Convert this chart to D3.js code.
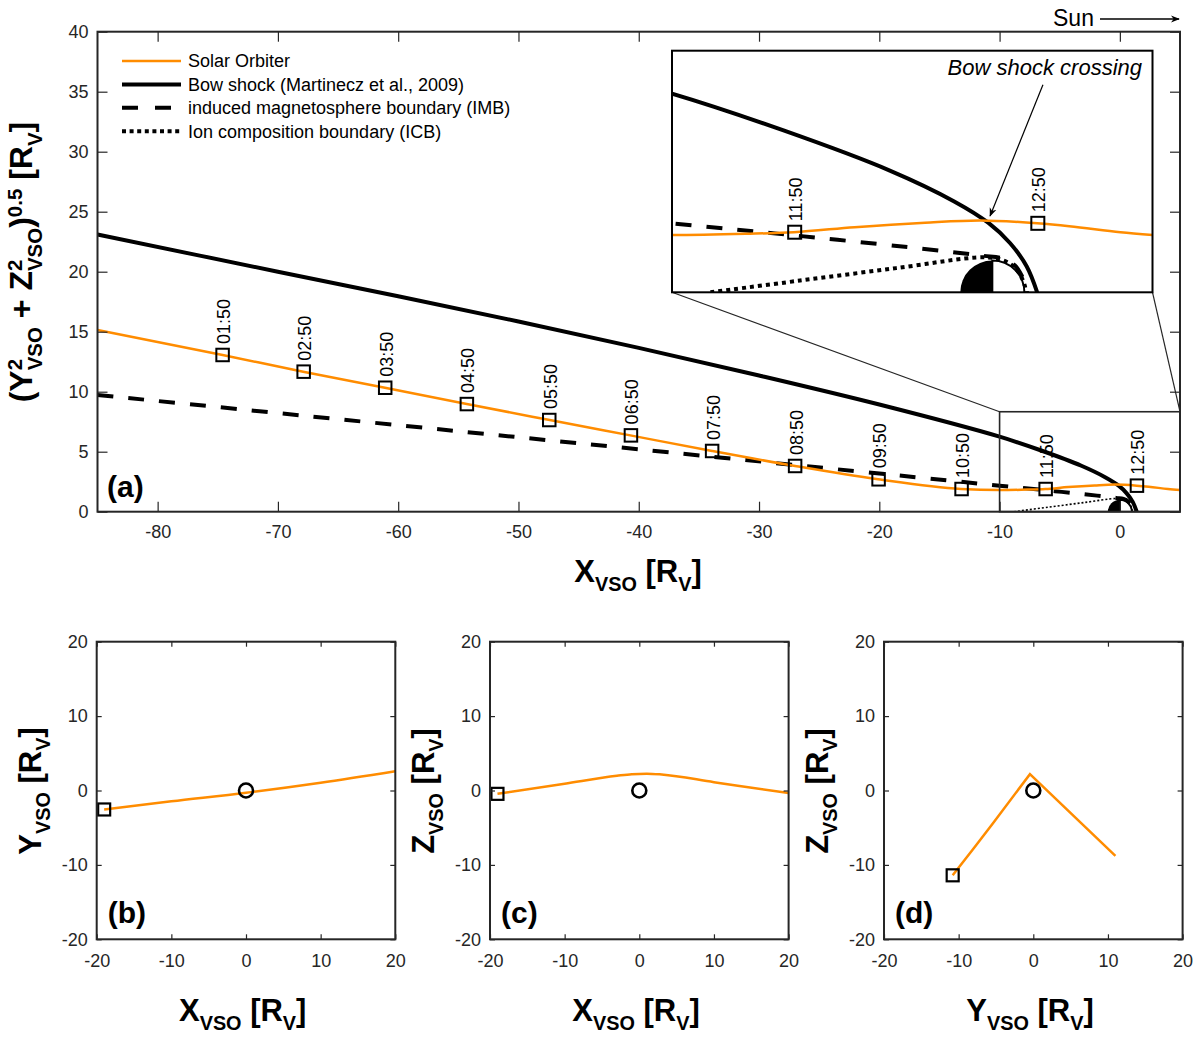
<!DOCTYPE html>
<html>
<head>
<meta charset="utf-8">
<script src="https://cdn.jsdelivr.net/npm/d3@7"></script>
<style>
body { margin: 0; background: #fff; }
text { font-family: "Liberation Sans", Arial, Helvetica, sans-serif; }
</style>
</head>
<body>
<svg id="fig" width="1200" height="1044"></svg>
<script>
// ---- data ----
// Solar Orbiter track in (X, sqrt(Y^2+Z^2)) [Rv]
var orbitX = [-85, -74.6, -67.9, -61.1, -54.3, -47.4, -40.7, -33.9, -27.0, -20.1, -13.2, -10, -7.7, -6.2, -4.3, -2.1, -0.4, 1.4, 2.4, 4.0, 5];
var orbitR = [15.14, 13.06, 11.67, 10.33, 8.97, 7.64, 6.36, 5.06, 3.81, 2.70, 1.89, 1.80, 1.84, 1.89, 2.05, 2.19, 2.26, 2.17, 2.08, 1.89, 1.80];

// hourly markers
var markerTime = ["01:50", "02:50", "03:50", "04:50", "05:50", "06:50", "07:50", "08:50", "09:50", "10:50", "11:50", "12:50"];
var markerX = [-74.6, -67.86, -61.08, -54.29, -47.44, -40.65, -33.9, -27.0, -20.06, -13.16, -6.17, 1.42];
var markerR = [13.06, 11.67, 10.33, 8.97, 7.64, 6.36, 5.06, 3.81, 2.70, 1.89, 1.89, 2.17];

// bow shock (Martinecz et al., 2009)
var bowX = [-85, -70, -60, -50, -40, -30, -20, -10, -6.54, -3.2, -1.19, -0.13, 0.55, 1.07, 1.40];
var bowR = [23.1, 20.0, 17.95, 15.85, 13.65, 11.35, 8.93, 6.25, 5.1, 3.83, 2.86, 2.19, 1.55, 0.82, 0];

// induced magnetosphere boundary
var imbX = [-85, -60, -40, -20, -10, -5.4, -1.9, -0.3, 0.3, 0.7, 0.93, 1.05, 1.08];
var imbR = [9.73, 7.21, 5.2, 3.18, 2.17, 1.71, 1.34, 1.15, 1.07, 0.85, 0.5, 0.2, 0];

// ion composition boundary
var icbX = [-8.8, -6, -3, -0.3, 0.3, 0.7, 0.92, 1.02, 1.04];
var icbR = [0, 0.37, 0.76, 1.1, 1.02, 0.78, 0.45, 0.18, 0];

// projections for panels b, c, d
var xyX = [-19.0, -10, 0, 10, 20];
var xyY = [-2.55, -1.45, -0.3, 1.05, 2.6];
var xzX = [-19.0, -10, -3, -1, 1, 3, 10, 20];
var xzZ = [-0.45, 0.92, 1.98, 2.2, 2.26, 2.15, 1.12, -0.35];
var yzY = [-10.8, -8, -5.4, -0.45, 11.0];
var yzZ = [-11.4, -7.8, -4.4, 2.2, -8.8];

var mainXTicks = [-80, -70, -60, -50, -40, -30, -20, -10, 0];
var mainYTicks = [0, 5, 10, 15, 20, 25, 30, 35, 40];
var smallTicks = [-20, -10, 0, 10, 20];

var legendLabels = ["Solar Orbiter", "Bow shock (Martinecz et al., 2009)", "induced magnetosphere boundary (IMB)", "Ion composition boundary (ICB)"];

// ---- drawing ----
var orange = "#ff8c00";
var ink = "#262626";
var svg = d3.select("#fig");
var defs = svg.append("defs");

function zip(xs, ys) {
  return xs.map(function (d, i) { return [d, ys[i]]; });
}

function linePath(xs, ys, sx, sy, curve) {
  return d3.line()
    .x(function (d) { return sx(d[0]); })
    .y(function (d) { return sy(d[1]); })
    .curve(curve || d3.curveCatmullRom.alpha(0.5))(zip(xs, ys));
}

function clip(id, sx, sy) {
  defs.append("clipPath").attr("id", id).append("rect")
    .attr("x", sx.range()[0]).attr("y", sy.range()[1])
    .attr("width", sx.range()[1] - sx.range()[0])
    .attr("height", sy.range()[0] - sy.range()[1]);
}

var plain = function (d) { return String(d); };   // hyphen minus like the original

// box with ticks on all four sides, labels on bottom/left
function boxAxes(sx, sy, xt, yt, tlen, padX, padY) {
  var g = svg.append("g");
  var b = sy.range()[0], t = sy.range()[1], l = sx.range()[0], r = sx.range()[1];
  g.append("g").attr("transform", "translate(0," + b + ")")
    .call(d3.axisBottom(sx).tickValues(xt).tickFormat(plain).tickSizeInner(-tlen).tickSizeOuter(0).tickPadding(padX));
  g.append("g").attr("transform", "translate(" + l + ",0)")
    .call(d3.axisLeft(sy).tickValues(yt).tickFormat(plain).tickSizeInner(-tlen).tickSizeOuter(0).tickPadding(padY));
  var top = g.append("g").attr("transform", "translate(0," + t + ")")
    .call(d3.axisTop(sx).tickValues(xt).tickSizeInner(-tlen).tickSizeOuter(0));
  var right = g.append("g").attr("transform", "translate(" + r + ",0)")
    .call(d3.axisRight(sy).tickValues(yt).tickSizeInner(-tlen).tickSizeOuter(0));
  top.selectAll("text").remove();
  right.selectAll("text").remove();
  g.selectAll(".domain").remove();
  g.selectAll(".tick line").attr("stroke", ink).attr("stroke-width", 1.2);
  g.selectAll(".tick text").attr("fill", ink).style("font-size", "18px")
    .style("font-family", '"Liberation Sans", Arial, sans-serif');
  g.append("rect").attr("x", l).attr("y", t).attr("width", r - l).attr("height", b - t)
    .attr("fill", "none").attr("stroke", ink).attr("stroke-width", 2);
  return g;
}

// text made of parts with sub/superscripts; a sub right after a sup is stacked under it
function richText(x, y, parts, size, rot, anchor) {
  var t = svg.append("text")
    .attr("transform", "translate(" + x + "," + y + ")" + (rot ? " rotate(-90)" : ""))
    .attr("text-anchor", anchor || "middle")
    .style("font-size", size + "px").style("font-weight", "bold").attr("fill", "#000");
  var cur = 0, prev = null;
  parts.forEach(function (p) {
    var shift = p.sub ? size * 0.3 : (p.sup ? -size * 0.3 : 0);
    var ts = t.append("tspan").attr("dy", shift - cur)
      .style("font-size", (p.sub || p.sup ? size * 0.64 : size) + "px")
      .text(p.t);
    if (p.sub && prev && prev.sup) {
      ts.attr("dx", -prev.node.getComputedTextLength());
    }
    prev = { sup: p.sup, node: ts.node() };
    cur = shift;
  });
  return t;
}

function venus(g, sx, sy) {
  var rx = sx(1) - sx(0), ry = sy(0) - sy(1);
  var cx = sx(0), cy = sy(0);
  // night side (x<0) filled, day side open
  g.append("path")
    .attr("d", "M" + cx + "," + cy + " L" + (cx - rx) + "," + cy +
      " A" + rx + "," + ry + " 0 0 1 " + cx + "," + (cy - ry) + " Z")
    .attr("fill", "#000");
  g.append("path")
    .attr("d", "M" + cx + "," + cy + " L" + cx + "," + (cy - ry) +
      " A" + rx + "," + ry + " 0 0 1 " + (cx + rx) + "," + cy)
    .attr("fill", "#fff").attr("stroke", "#000").attr("stroke-width", 2);
}

// ---------- panel (a) ----------
var x = d3.scaleLinear().domain([-85, 5]).range([97.5, 1180]);
var y = d3.scaleLinear().domain([0, 40]).range([511.7, 31.7]);
clip("clipA", x, y);

var gA = svg.append("g").attr("clip-path", "url(#clipA)");
gA.append("path").attr("d", linePath(icbX, icbR, x, y)).attr("fill", "none")
  .attr("stroke", "#000").attr("stroke-width", 1.6).attr("stroke-dasharray", "2,2");
venus(gA, x, y);
gA.append("path").attr("d", linePath(imbX, imbR, x, y)).attr("fill", "none")
  .attr("stroke", "#000").attr("stroke-width", 4).attr("stroke-dasharray", "16,15");
gA.append("path").attr("d", linePath(bowX, bowR, x, y)).attr("fill", "none")
  .attr("stroke", "#000").attr("stroke-width", 4);
gA.append("path").attr("d", linePath(orbitX, orbitR, x, y, d3.curveMonotoneX)).attr("fill", "none")
  .attr("stroke", orange).attr("stroke-width", 2.5);

// only the markers that fall inside the given x scale's domain
function markers(g, sx, sy, sz) {
  var dom = sx.domain();
  var m = zip(markerX, markerR)
    .map(function (d, i) { return { x: d[0], r: d[1], t: markerTime[i] }; })
    .filter(function (d) { return d.x >= dom[0] && d.x <= dom[1]; });
  g.selectAll(null).data(m).enter().append("rect")
    .attr("x", function (d) { return sx(d.x) - sz / 2; })
    .attr("y", function (d) { return sy(d.r) - sz / 2; })
    .attr("width", sz).attr("height", sz)
    .attr("fill", "none").attr("stroke", "#000").attr("stroke-width", 2);
  g.selectAll(null).data(m).enter().append("text")
    .attr("transform", function (d) {
      return "translate(" + (sx(d.x) + 7.5) + "," + (sy(d.r) - 11) + ") rotate(-90)";
    })
    .style("font-size", "18px").attr("fill", "#000")
    .text(function (d) { return d.t; });
}
markers(gA, x, y, 12.5);

// zoom box and connectors
var zoomBox = { x0: -10, x1: 5, y1: 8.33 };
svg.append("rect").attr("x", x(zoomBox.x0)).attr("y", y(zoomBox.y1))
  .attr("width", x(zoomBox.x1) - x(zoomBox.x0)).attr("height", y(0) - y(zoomBox.y1))
  .attr("fill", "none").attr("stroke", ink).attr("stroke-width", 1.6);

// inset axes
var xi = d3.scaleLinear().domain([-10, 5]).range([672, 1152.5]);
var yi = d3.scaleLinear().domain([0, 7.6]).range([292.3, 50.7]);
clip("clipI", xi, yi);

svg.append("line").attr("x1", xi(-10)).attr("y1", yi(0)).attr("x2", x(zoomBox.x0)).attr("y2", y(zoomBox.y1))
  .attr("stroke", ink).attr("stroke-width", 1.2);
svg.append("line").attr("x1", xi(5)).attr("y1", yi(0)).attr("x2", x(zoomBox.x1)).attr("y2", y(zoomBox.y1))
  .attr("stroke", ink).attr("stroke-width", 1.2);

svg.append("rect").attr("x", xi(-10)).attr("y", yi(7.6))
  .attr("width", xi(5) - xi(-10)).attr("height", yi(0) - yi(7.6)).attr("fill", "#fff");
var gI = svg.append("g").attr("clip-path", "url(#clipI)");
venus(gI, xi, yi);
gI.append("path").attr("d", linePath(icbX, icbR, xi, yi)).attr("fill", "none")
  .attr("stroke", "#000").attr("stroke-width", 4).attr("stroke-dasharray", "4,4");
gI.append("path").attr("d", linePath(imbX, imbR, xi, yi)).attr("fill", "none")
  .attr("stroke", "#000").attr("stroke-width", 4).attr("stroke-dasharray", "16,15");
gI.append("path").attr("d", linePath(bowX, bowR, xi, yi)).attr("fill", "none")
  .attr("stroke", "#000").attr("stroke-width", 4);
gI.append("path").attr("d", linePath(orbitX, orbitR, xi, yi, d3.curveMonotoneX)).attr("fill", "none")
  .attr("stroke", orange).attr("stroke-width", 2.5);
markers(gI, xi, yi, 13);
svg.append("rect").attr("x", xi(-10)).attr("y", yi(7.6))
  .attr("width", xi(5) - xi(-10)).attr("height", yi(0) - yi(7.6))
  .attr("fill", "none").attr("stroke", "#000").attr("stroke-width", 2);

// annotation arrow
defs.append("marker").attr("id", "head").attr("viewBox", "0 0 10 10")
  .attr("refX", 9).attr("refY", 5).attr("markerWidth", 9).attr("markerHeight", 9)
  .attr("markerUnits", "userSpaceOnUse").attr("orient", "auto")
  .append("path").attr("d", "M0,1 L10,5 L0,9 L3,5 Z").attr("fill", "#000");
svg.append("line").attr("x1", xi(1.58)).attr("y1", yi(6.53)).attr("x2", xi(-0.07)).attr("y2", yi(2.4))
  .attr("stroke", "#000").attr("stroke-width", 1.2).attr("marker-end", "url(#head)");
svg.append("text").attr("x", 1142).attr("y", 75).attr("text-anchor", "end")
  .style("font-size", "22px").style("font-style", "italic").text("Bow shock crossing");

boxAxes(x, y, mainXTicks, mainYTicks, 10, 14, 9);

// legend
var legStyle = [
  { c: orange, w: 2.5, d: null },
  { c: "#000", w: 4, d: null },
  { c: "#000", w: 4, d: "16,17" },
  { c: "#000", w: 4, d: "4,3.6" }
];
var leg = svg.append("g");
legendLabels.forEach(function (lab, i) {
  var ly = 61 + i * 23.4;
  leg.append("line").attr("x1", 122).attr("x2", 181).attr("y1", ly).attr("y2", ly)
    .attr("stroke", legStyle[i].c).attr("stroke-width", legStyle[i].w)
    .attr("stroke-dasharray", legStyle[i].d);
  leg.append("text").attr("x", 188).attr("y", ly).attr("dy", "0.35em")
    .style("font-size", "18px").attr("fill", "#000").text(lab);
});

svg.append("text").attr("x", 107).attr("y", 497).style("font-size", "30px")
  .style("font-weight", "bold").text("(a)");

// Sun direction
svg.append("text").attr("x", 1053).attr("y", 26).style("font-size", "23px").text("Sun");
svg.append("line").attr("x1", 1100).attr("x2", 1179).attr("y1", 19).attr("y2", 19)
  .attr("stroke", "#000").attr("stroke-width", 1.3).attr("marker-end", "url(#head)");

richText(638, 582, [{ t: "X" }, { t: "VSO", sub: true }, { t: " [R" }, { t: "V", sub: true }, { t: "]" }], 31, false);
richText(32, 262, [{ t: "(Y" }, { t: "2", sup: true }, { t: "VSO", sub: true }, { t: " + Z" }, { t: "2", sup: true },
  { t: "VSO", sub: true }, { t: ")" }, { t: "0.5", sup: true }, { t: " [R" }, { t: "V", sub: true }, { t: "]" }], 32, true);

// ---------- panels (b), (c), (d) ----------
var small = [
  { left: 96.7, xs: xyX, ys: xyY, tag: "(b)", xl: "X", yl: "Y" },
  { left: 490, xs: xzX, ys: xzZ, tag: "(c)", xl: "X", yl: "Z" },
  { left: 884, xs: yzY, ys: yzZ, tag: "(d)", xl: "Y", yl: "Z" }
];
small.forEach(function (p, i) {
  var sx = d3.scaleLinear().domain([-20, 20]).range([p.left, p.left + 298.6]);
  var sy = d3.scaleLinear().domain([-20, 20]).range([939.3, 641.7]);
  var curve = i === 2 ? d3.curveLinear : d3.curveMonotoneX;
  svg.append("path").attr("d", linePath(p.xs, p.ys, sx, sy, curve)).attr("fill", "none")
    .attr("stroke", orange).attr("stroke-width", 2.5);
  svg.append("rect").attr("x", sx(p.xs[0]) - 6).attr("y", sy(p.ys[0]) - 6)
    .attr("width", 12).attr("height", 12)
    .attr("fill", "none").attr("stroke", "#000").attr("stroke-width", 2.2);
  svg.append("circle").attr("cx", sx(0)).attr("cy", sy(0)).attr("r", 7)
    .attr("fill", "none").attr("stroke", "#000").attr("stroke-width", 2.6);
  boxAxes(sx, sy, smallTicks, smallTicks, 5, 15, 9);
  svg.append("text").attr("x", p.left + 11).attr("y", 923).style("font-size", "30px")
    .style("font-weight", "bold").text(p.tag);
  richText(p.left + 146, 1021, [{ t: p.xl }, { t: "VSO", sub: true }, { t: " [R" }, { t: "V", sub: true }, { t: "]" }], 31, false);
  richText(p.left - 56, 791, [{ t: p.yl }, { t: "VSO", sub: true }, { t: " [R" }, { t: "V", sub: true }, { t: "]" }], 31, true);
});
</script>
</body>
</html>
